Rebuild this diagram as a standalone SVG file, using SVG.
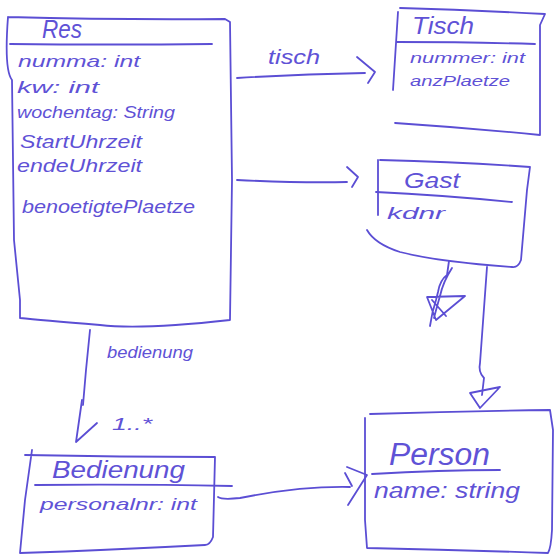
<svg xmlns="http://www.w3.org/2000/svg" width="558" height="559" viewBox="0 0 558 559">
<style>
.s{fill:none;stroke:#5b4ed4;stroke-width:1.8;stroke-linecap:round;stroke-linejoin:round}
.t{fill:#5f52d6;font-family:"Liberation Sans",Arial,sans-serif;font-style:italic}
</style>
<rect width="558" height="559" fill="#ffffff"/>
<g id="connectors">
<path class="s" d="M237,78 Q300,74 365,73"/>
<path class="s" d="M357,57 L375,72 L368,83"/>
<text class="t" x="268" y="64" font-size="20" textLength="52" lengthAdjust="spacingAndGlyphs">tisch</text>
<path class="s" d="M237,180 Q300,183 347,182"/>
<path class="s" d="M347,167 L358,177 L352,187"/>
<path class="s" d="M487,267 L480,363 Q478,372 484,378 L482,395"/>
<path class="s" d="M470,393 L500,387 L480,408 Z"/>
<path class="s" d="M449,261 L447,275 Q440,280 438,292 L436,300 Q432,312 430,326 M452,268 Q443,282 440,296 Q436,310 434,318 M427,297 L465,296 L436,320 Z M432,300 L446,316"/>
<path class="s" d="M90,330 L86,370 L83,405"/>
<path class="s" d="M82,400 L76,442 L97,423"/>
<text class="t" x="107" y="358" font-size="16" textLength="86" lengthAdjust="spacingAndGlyphs">bedienung</text>
<text class="t" x="112" y="430" font-size="16" textLength="40" lengthAdjust="spacingAndGlyphs">1..*</text>
<path class="s" d="M218,497 Q222,500 240,498 Q300,486 350,487"/>
<path class="s" d="M347,467 L367,475 L348,505"/>
<path class="s" d="M345,473 L352,486"/>
</g>
<g id="Res">
<path class="s" d="M8,17 Q120,20 225,19 L230,22 L232,180 L230,320 Q140,330 100,325 Q40,320 20,318 L20,300 L14,240 L12,80 Q4,70 8,17"/>
<path class="s" d="M10,44 Q110,45 212,44"/>
<text class="t" x="42" y="38" font-size="25" textLength="40" lengthAdjust="spacingAndGlyphs">Res</text>
<text class="t" x="18" y="67" font-size="17" textLength="122" lengthAdjust="spacingAndGlyphs">numma: int</text>
<text class="t" x="17" y="93" font-size="17" textLength="82" lengthAdjust="spacingAndGlyphs">kw: int</text>
<text class="t" x="17" y="118" font-size="17" textLength="158" lengthAdjust="spacingAndGlyphs">wochentag: String</text>
<text class="t" x="20" y="148" font-size="18" textLength="122" lengthAdjust="spacingAndGlyphs">StartUhrzeit</text>
<text class="t" x="17" y="172" font-size="18" textLength="125" lengthAdjust="spacingAndGlyphs">endeUhrzeit</text>
<text class="t" x="22" y="213" font-size="19" textLength="173" lengthAdjust="spacingAndGlyphs">benoetigtePlaetze</text>
</g>
<g id="Tisch">
<path class="s" d="M400,8 Q470,10 545,14 L540,25 L540,135 M395,123 Q470,128 540,135 M398,12 L393,90"/>
<path class="s" d="M397,42 Q470,42 535,44"/>
<text class="t" x="412" y="34" font-size="23" textLength="62" lengthAdjust="spacingAndGlyphs">Tisch</text>
<text class="t" x="410" y="63" font-size="15" textLength="115" lengthAdjust="spacingAndGlyphs">nummer: int</text>
<text class="t" x="410" y="86" font-size="15" textLength="100" lengthAdjust="spacingAndGlyphs">anzPlaetze</text>
</g>
<g id="Gast">
<path class="s" d="M380,160 Q460,162 530,167 L527,190 L521,260 Q518,268 512,267 Q440,262 400,252 Q375,244 367,230 M378,160 L378,215"/>
<path class="s" d="M376,192 Q440,195 512,202"/>
<text class="t" x="404" y="188" font-size="22" textLength="56" lengthAdjust="spacingAndGlyphs">Gast</text>
<text class="t" x="387" y="219" font-size="16" textLength="58" lengthAdjust="spacingAndGlyphs">kdnr</text>
</g>
<g id="Person">
<path class="s" d="M370,414 Q460,411 550,410 L553,430 L552,530 Q551,548 548,553 Q460,550 367,548 L365,520 L365,418"/>
<path class="s" d="M372,474 Q440,470 500,470"/>
<text class="t" x="389" y="465" font-size="31" textLength="101" lengthAdjust="spacingAndGlyphs">Person</text>
<text class="t" x="374" y="498" font-size="22" textLength="146" lengthAdjust="spacingAndGlyphs">name: string</text>
</g>
<g id="Bedienung">
<path class="s" d="M25,455 Q120,457 215,457 L213,537 Q210,545 205,545 Q110,550 20,553 L25,500 L32,450"/>
<path class="s" d="M35,485 Q130,484 232,486"/>
<text class="t" x="52" y="478" font-size="23" textLength="133" lengthAdjust="spacingAndGlyphs">Bedienung</text>
<text class="t" x="40" y="510" font-size="17" textLength="157" lengthAdjust="spacingAndGlyphs">personalnr: int</text>
</g>
</svg>
